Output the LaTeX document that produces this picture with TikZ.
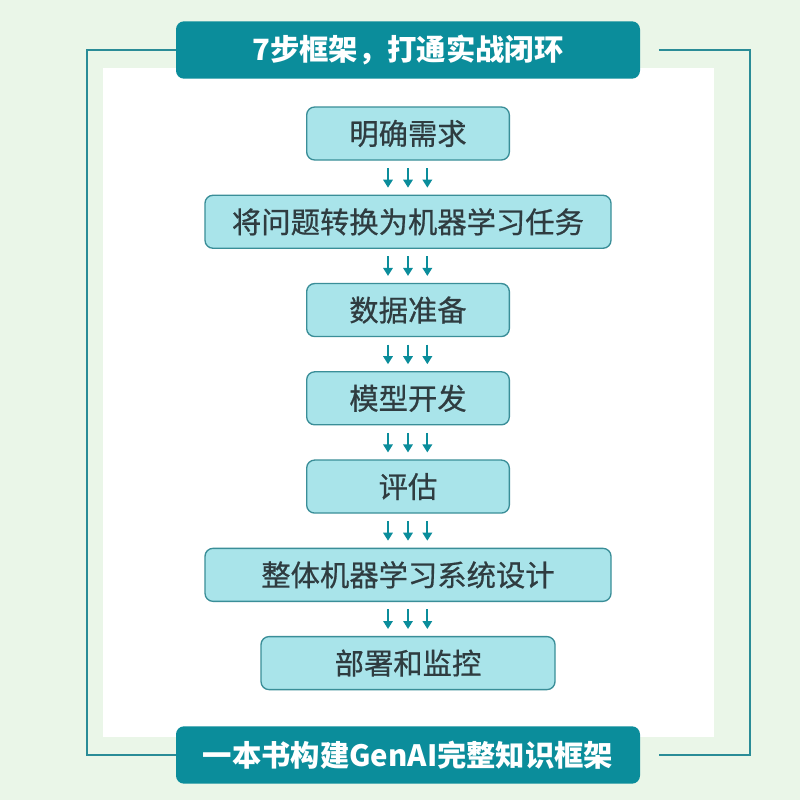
\documentclass[tikz,border=0pt]{standalone}
\usepackage{fontspec}
\setmainfont{Noto Sans CJK SC}
\newfontfamily\stepfont[FakeBold=0.6]{Noto Sans CJK SC}
\usepackage{tikz}
\definecolor{pagegreen}{RGB}{234, 246, 232}
\definecolor{bannerteal}{RGB}{11, 141, 155}
\definecolor{frameteal}{RGB}{42, 140, 151}
\definecolor{stepfill}{RGB}{169, 228, 234}
\definecolor{stepline}{RGB}{58, 142, 152}
\definecolor{steptext}{RGB}{47, 60, 64}
\usetikzlibrary{shapes,arrows.meta}
\tikzstyle{stepbox} = [rectangle, draw=stepline, line width=1pt, fill=stepfill,
    text=steptext, minimum height=39.75pt, rounded corners=6pt,
    font=\stepfont\fontsize{22pt}{24pt}\selectfont]
\tikzstyle{banner} = [rectangle, fill=bannerteal, text=white, minimum width=348pt,
    minimum height=43pt, rounded corners=6pt,
    font=\fontsize{22pt}{24pt}\selectfont\bfseries]
\tikzstyle{frame} = [draw=frameteal, line width=1.5pt]
\tikzstyle{line} = [draw=bannerteal, line width=1.5pt,
    -{Triangle[width=7pt,length=6pt]}, shorten <=5.6pt, shorten >=5.2pt]

\begin{document}
\begin{tikzpicture}[x=0.75pt, y=-0.75pt, node distance=66.2pt]
  \useasboundingbox [fill=pagegreen] (0,0) rectangle (800,800);
  \fill [white] (103,68) rectangle (714,737);
  \node [stepbox, minimum width=152pt] (need) at (408,133.5) {明确需求};
  \node [stepbox, minimum width=304.5pt, below of=need] (task) {将问题转换为机器学习任务};
  \node [stepbox, minimum width=152pt, below of=task] (data) {数据准备};
  \node [stepbox, minimum width=152pt, below of=data] (model) {模型开发};
  \node [stepbox, minimum width=152pt, below of=model] (eval) {评估};
  \node [stepbox, minimum width=304.5pt, below of=eval] (system) {整体机器学习系统设计};
  \node [stepbox, minimum width=220.5pt, below of=system] (deploy) {部署和监控};
  \node [banner] (title) at (408,50) {7步框架，打通实战闭环};
  \node [banner] (footer) at (408,755) {一本书构建GenAI完整知识框架};
  \coordinate (frame_left) at (87,0);
  \coordinate (frame_right) at (750,0);
  \draw [frame] (title.west) -| (frame_left |- footer.west) -- (footer.west);
  \draw [frame] ([xshift=14pt]title.east) -| (frame_right |- footer.east) -- ([xshift=14pt]footer.east);
  \foreach \a/\b in {need/task, task/data, data/model, model/eval, eval/system, system/deploy}
    \foreach \dx in {-15pt, 0pt, 14.5pt}
      \path [line] ([xshift=\dx]\a.south) -- ([xshift=\dx]\b.north);
\end{tikzpicture}
\end{document}
